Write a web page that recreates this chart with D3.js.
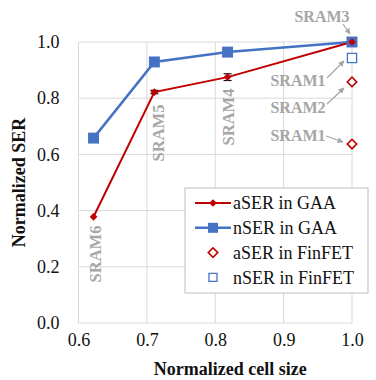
<!DOCTYPE html>
<html>
<head>
<meta charset="utf-8">
<script src="https://cdn.jsdelivr.net/npm/d3@7.9.0/dist/d3.min.js"></script>
<style>
  html, body { margin: 0; padding: 0; background: #fff; }
  svg text { font-family: "Liberation Serif", "Times New Roman", serif; }
</style>
</head>
<body>
<div id="chart"></div>
<script>
// values
const cellSize = [0.622, 0.711, 0.818, 1.0];
const cellNames = ['SRAM6', 'SRAM5', 'SRAM4', 'SRAM3'];
const aserGAA = [0.378, 0.822, 0.875, 1.0];
const aserGAAErr = [0, 0.006, 0.012, 0];
const nserGAA = [0.658, 0.929, 0.964, 1.0];
const nserGAAErr = [0, 0.012, 0.006, 0];
const finX = 1.0;
const aserFin = [0.858, 0.637];
const aserFinNames = ['SRAM2', 'SRAM1'];
const nserFin = [0.943];
const nserFinNames = ['SRAM1'];
const xTicks = [0.6, 0.7, 0.8, 0.9, 1.0];
const yTicks = [0.0, 0.2, 0.4, 0.6, 0.8, 1.0];

const width = 376, height = 380;
const red = '#c00000', blue = '#4472c4', gray = '#a6a6a6';

const svg = d3.select('#chart').append('svg')
  .attr('width', width).attr('height', height);

const x = d3.scaleLinear().domain([0.6, 1.0]).range([78.5, 352]);
const y = d3.scaleLinear().domain([0, 1]).range([323, 42]);

// gridlines
const grid = svg.append('g').attr('stroke', '#d9d9d9').attr('stroke-width', 1);
grid.selectAll('.gx').data(xTicks).join('line')
  .attr('x1', d => x(d)).attr('x2', d => x(d))
  .attr('y1', y(0)).attr('y2', y(1));
grid.selectAll('.gy').data(yTicks).join('line')
  .attr('x1', x(0.6)).attr('x2', x(1.0))
  .attr('y1', d => y(d)).attr('y2', d => y(d));

// axes
const xAxis = svg.append('g')
  .attr('transform', `translate(0,${y(0)})`)
  .call(d3.axisBottom(x).tickValues(xTicks).tickFormat(d3.format('.1f')).tickSize(0).tickPadding(10));
const yAxis = svg.append('g')
  .attr('transform', `translate(${x(0.6)},0)`)
  .call(d3.axisLeft(y).tickValues(yTicks).tickFormat(d3.format('.1f')).tickSize(0).tickPadding(19));
[xAxis, yAxis].forEach(a => {
  a.select('.domain').remove();
  a.attr('font-family', null);
  a.selectAll('text').attr('font-size', 18).attr('fill', '#111');
});

svg.append('text')
  .attr('x', (x(0.6) + x(1.0)) / 2 + 15).attr('y', 375)
  .attr('text-anchor', 'middle').attr('font-weight', 'bold').attr('font-size', 18)
  .attr('fill', '#111').text('Normalized cell size');
svg.append('text')
  .attr('transform', `translate(25,${(y(0) + y(1)) / 2}) rotate(-90)`)
  .attr('text-anchor', 'middle').attr('font-weight', 'bold').attr('font-size', 18)
  .attr('fill', '#111').text('Normalized SER');

// rotated labels
const rot = [
  { i: 0, dx: 2, y: 254 },
  { i: 1, dx: 4, y: 133 },
  { i: 2, dx: 1, y: 117 }
];
svg.selectAll('.rlab').data(rot).join('text')
  .attr('transform', d => `translate(${x(cellSize[d.i]) + d.dx},${d.y}) rotate(-90)`)
  .attr('text-anchor', 'middle').attr('dy', '0.35em')
  .attr('font-weight', 'bold').attr('font-size', 16.5).attr('fill', gray)
  .text(d => cellNames[d.i]);

// lines
const line = d3.line().x(d => x(d[0])).y(d => y(d[1]));
svg.append('path')
  .datum(cellSize.map((c, i) => [c, nserGAA[i]]))
  .attr('d', line).attr('fill', 'none').attr('stroke', blue).attr('stroke-width', 2.5);
svg.append('path')
  .datum(cellSize.map((c, i) => [c, aserGAA[i]]))
  .attr('d', line).attr('fill', 'none').attr('stroke', red).attr('stroke-width', 2);

// error bars
function errBars(vals, errs) {
  const g = svg.append('g').attr('stroke', '#111').attr('stroke-width', 1.2);
  cellSize.forEach((c, i) => {
    if (!errs[i]) return;
    const cx = x(c);
    g.append('line').attr('x1', cx).attr('x2', cx)
      .attr('y1', y(vals[i] - errs[i])).attr('y2', y(vals[i] + errs[i]));
    [vals[i] - errs[i], vals[i] + errs[i]].forEach(v => {
      g.append('line').attr('x1', cx - 4).attr('x2', cx + 4).attr('y1', y(v)).attr('y2', y(v));
    });
  });
}
errBars(nserGAA, nserGAAErr);
errBars(aserGAA, aserGAAErr);

// markers: squares, and squares turned 45 degrees for diamonds
const sq = d3.symbol().type(d3.symbolSquare);
svg.selectAll('.nm').data(cellSize).join('path')
  .attr('transform', (d, i) => `translate(${x(d)},${y(nserGAA[i])})`)
  .attr('d', sq.size(120)()).attr('fill', blue);
svg.selectAll('.am').data(cellSize).join('path')
  .attr('transform', (d, i) => `translate(${x(d)},${y(aserGAA[i])}) rotate(45)`)
  .attr('d', sq.size(30)()).attr('fill', red);
svg.selectAll('.af').data(aserFin).join('path')
  .attr('transform', d => `translate(${x(finX)},${y(d)}) rotate(45)`)
  .attr('d', sq.size(45)()).attr('fill', '#fff').attr('stroke', red).attr('stroke-width', 1.6);
svg.selectAll('.nf').data(nserFin).join('path')
  .attr('transform', d => `translate(${x(finX)},${y(d)})`)
  .attr('d', sq.size(85)()).attr('fill', '#fff').attr('stroke', blue).attr('stroke-width', 1.3);

// annotations with arrows
svg.append('defs').append('marker')
  .attr('id', 'arr').attr('viewBox', '0 0 10 10').attr('refX', 9).attr('refY', 5)
  .attr('markerWidth', 5).attr('markerHeight', 5).attr('orient', 'auto')
  .append('path').attr('d', 'M0,0L10,5L0,10z').attr('fill', gray);

const notes = [
  { text: cellNames[3], tx: 322, ty: 16, ax: 343, ay: 24, bx: 350, by: 34 },
  { text: nserFinNames[0], tx: 298, ty: 80, ax: 327, ay: 78, bx: 344, by: 61 },
  { text: aserFinNames[0], tx: 298, ty: 107, ax: 327, ay: 104, bx: 344, by: 88 },
  { text: aserFinNames[1], tx: 298, ty: 135, ax: 326, ay: 136, bx: 343, by: 142 }
];
svg.selectAll('.nt').data(notes).join('text')
  .attr('x', d => d.tx).attr('y', d => d.ty).attr('dy', '0.35em')
  .attr('text-anchor', 'middle').attr('font-weight', 'bold').attr('font-size', 16)
  .attr('fill', gray).text(d => d.text);
svg.selectAll('.na').data(notes).join('line')
  .attr('x1', d => d.ax).attr('y1', d => d.ay).attr('x2', d => d.bx).attr('y2', d => d.by)
  .attr('stroke', gray).attr('stroke-width', 1.2).attr('marker-end', 'url(#arr)');

// legend
const lg = svg.append('g').attr('transform', 'translate(185,188)');
lg.append('rect').attr('width', 183).attr('height', 105)
  .attr('fill', '#fff').attr('stroke', '#bfbfbf').attr('stroke-width', 1);
const legendItems = [
  { label: 'aSER in GAA', kind: 'aLine' },
  { label: 'nSER in GAA', kind: 'nLine' },
  { label: 'aSER in FinFET', kind: 'aFin' },
  { label: 'nSER in FinFET', kind: 'nFin' }
];
const li = lg.selectAll('.li').data(legendItems).join('g')
  .attr('transform', (d, i) => `translate(0,${15 + i * 24.8})`);
li.each(function (d) {
  const g = d3.select(this);
  if (d.kind === 'aLine' || d.kind === 'nLine') {
    const c = d.kind === 'aLine' ? red : blue;
    g.append('line').attr('x1', 10).attr('x2', 46).attr('stroke', c)
      .attr('stroke-width', d.kind === 'aLine' ? 2 : 2.5);
    g.append('path')
      .attr('transform', d.kind === 'aLine' ? 'translate(28,0) rotate(45)' : 'translate(28,0)')
      .attr('d', d.kind === 'aLine' ? sq.size(30)() : sq.size(100)()).attr('fill', c);
  } else if (d.kind === 'aFin') {
    g.append('path').attr('transform', 'translate(28,0) rotate(45)').attr('d', sq.size(45)())
      .attr('fill', '#fff').attr('stroke', red).attr('stroke-width', 1.6);
  } else {
    g.append('path').attr('transform', 'translate(28,0)').attr('d', sq.size(64)())
      .attr('fill', '#fff').attr('stroke', blue).attr('stroke-width', 1.3);
  }
  g.append('text').attr('x', 48).attr('dy', '0.35em').attr('font-size', 18)
    .attr('fill', '#111').text(d.label);
});
</script>
</body>
</html>
